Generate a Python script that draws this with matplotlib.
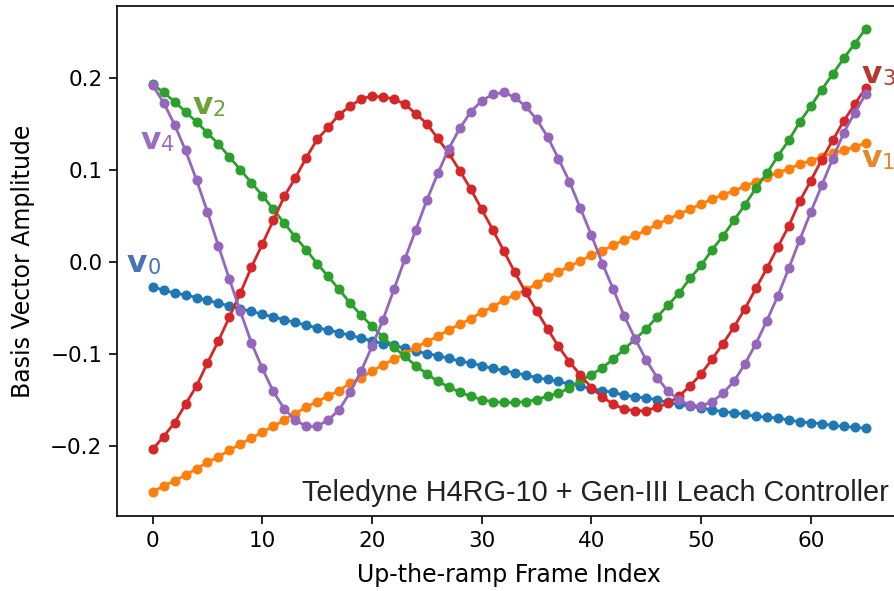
import numpy as np
import matplotlib
matplotlib.use("Agg")
import matplotlib.pyplot as plt

frames = np.arange(66)

v0 = [-0.027, -0.031, -0.034, -0.036, -0.039, -0.042, -0.045, -0.048, -0.051, -0.054,
      -0.057, -0.060, -0.063, -0.066, -0.069, -0.072, -0.074, -0.077, -0.080, -0.083,
      -0.086, -0.089, -0.091, -0.094, -0.097, -0.100, -0.102, -0.105, -0.108, -0.110,
      -0.113, -0.116, -0.118, -0.121, -0.123, -0.126, -0.128, -0.130, -0.133, -0.135,
      -0.138, -0.140, -0.142, -0.145, -0.147, -0.148, -0.150, -0.153, -0.155, -0.157,
      -0.159, -0.161, -0.163, -0.164, -0.166, -0.168, -0.169, -0.170, -0.172, -0.174,
      -0.175, -0.176, -0.178, -0.179, -0.180, -0.181]

v1 = [-0.250, -0.244, -0.238, -0.232, -0.225, -0.218, -0.212, -0.205, -0.198, -0.192,
      -0.185, -0.179, -0.172, -0.165, -0.158, -0.152, -0.146, -0.140, -0.132, -0.126,
      -0.119, -0.112, -0.106, -0.100, -0.093, -0.087, -0.081, -0.074, -0.068, -0.062,
      -0.055, -0.049, -0.042, -0.036, -0.031, -0.024, -0.017, -0.011, -0.005, 0.001,
      0.007, 0.012, 0.018, 0.024, 0.029, 0.034, 0.041, 0.046, 0.052, 0.057,
      0.063, 0.068, 0.073, 0.077, 0.082, 0.087, 0.092, 0.097, 0.101, 0.106,
      0.110, 0.114, 0.118, 0.121, 0.125, 0.129]

v2 = [0.193, 0.184, 0.174, 0.163, 0.152, 0.140, 0.128, 0.114, 0.100, 0.086,
      0.072, 0.057, 0.042, 0.027, 0.013, -0.002, -0.016, -0.030, -0.045, -0.058,
      -0.070, -0.082, -0.093, -0.103, -0.113, -0.122, -0.130, -0.136, -0.142, -0.146,
      -0.150, -0.152, -0.153, -0.153, -0.152, -0.150, -0.146, -0.143, -0.137, -0.129,
      -0.123, -0.115, -0.106, -0.095, -0.084, -0.073, -0.060, -0.047, -0.034, -0.018,
      -0.004, 0.013, 0.028, 0.045, 0.062, 0.080, 0.096, 0.115, 0.132, 0.152,
      0.169, 0.187, 0.204, 0.221, 0.237, 0.253]

v3 = [-0.204, -0.190, -0.175, -0.155, -0.135, -0.110, -0.086, -0.060, -0.034, -0.006,
      0.019, 0.045, 0.071, 0.091, 0.113, 0.133, 0.146, 0.160, 0.169, 0.177,
      0.180, 0.179, 0.177, 0.171, 0.161, 0.150, 0.134, 0.118, 0.099, 0.079,
      0.057, 0.035, 0.012, -0.011, -0.033, -0.053, -0.073, -0.092, -0.109, -0.123,
      -0.137, -0.147, -0.155, -0.160, -0.162, -0.162, -0.158, -0.154, -0.146, -0.135,
      -0.122, -0.106, -0.089, -0.071, -0.051, -0.029, -0.007, 0.016, 0.039, 0.066,
      0.088, 0.111, 0.132, 0.153, 0.171, 0.189]

v4 = [0.192, 0.173, 0.149, 0.121, 0.089, 0.054, 0.017, -0.019, -0.054, -0.088,
      -0.116, -0.141, -0.160, -0.172, -0.179, -0.179, -0.172, -0.161, -0.142, -0.119,
      -0.092, -0.063, -0.030, 0.003, 0.035, 0.067, 0.096, 0.123, 0.145, 0.163,
      0.175, 0.182, 0.184, 0.179, 0.169, 0.155, 0.136, 0.112, 0.087, 0.058,
      0.029, -0.002, -0.030, -0.059, -0.084, -0.107, -0.126, -0.141, -0.150, -0.156,
      -0.157, -0.152, -0.143, -0.130, -0.111, -0.089, -0.064, -0.037, -0.007, 0.024,
      0.054, 0.083, 0.112, 0.140, 0.162, 0.182]

series = [v0, v1, v2, v3, v4]
line_colors = ['#1f77b4', '#ff7f0e', '#2ca02c', '#d62728', '#9467bd']

# curve labels: subscript, anchor (frame, amplitude), colour
label_subs = ['0', '1', '2', '3', '4']
label_x = [-2.4, 64.6, 3.6, 64.6, -1.1]
label_y = [-0.011, 0.103, 0.161, 0.194, 0.123]
label_colors = ['#4673b5', '#e2892b', '#6aa23a', '#b8372f', '#9a6cc2']

fig = plt.figure(figsize=(8.95, 5.91), dpi=100)
ax = fig.add_axes([0.1307, 0.1269, 0.8763, 0.8629])

for ys, c in zip(series, line_colors):
    ax.plot(frames, ys, '-o', color=c, lw=2.0, ms=6.2)

for sub, lx, ly, c in zip(label_subs, label_x, label_y, label_colors):
    ax.text(lx, ly, 'v', color=c, fontsize=22.5, fontweight='bold',
            family='DejaVu Sans', ha='left', va='baseline')
    ax.annotate(sub, xy=(lx, ly), xytext=(15, -1.5), textcoords='offset points',
                color=c, fontsize=15, family='DejaVu Sans', ha='left', va='baseline')

ax.text(67.1, -0.260, 'Teledyne H4RG-10 + Gen-III Leach Controller',
        fontsize=20.8, family='Liberation Sans', color='#222222',
        ha='right', va='baseline')

ax.set_xlim(-3.25, 68.25)
ax.set_ylim(-0.2764, 0.278)
ax.set_xticks([0, 10, 20, 30, 40, 50, 60])
ax.set_yticks([-0.2, -0.1, 0.0, 0.1, 0.2])
ax.tick_params(labelsize=15.5, length=5.5, width=1.2, pad=5)
for s in ax.spines.values():
    s.set_linewidth(1.2)

ax.set_xlabel('Up-the-ramp Frame Index', fontsize=17, labelpad=9)
ax.set_ylabel('Basis Vector Amplitude', fontsize=17, labelpad=11)

fig.savefig('out.png', dpi=100)
